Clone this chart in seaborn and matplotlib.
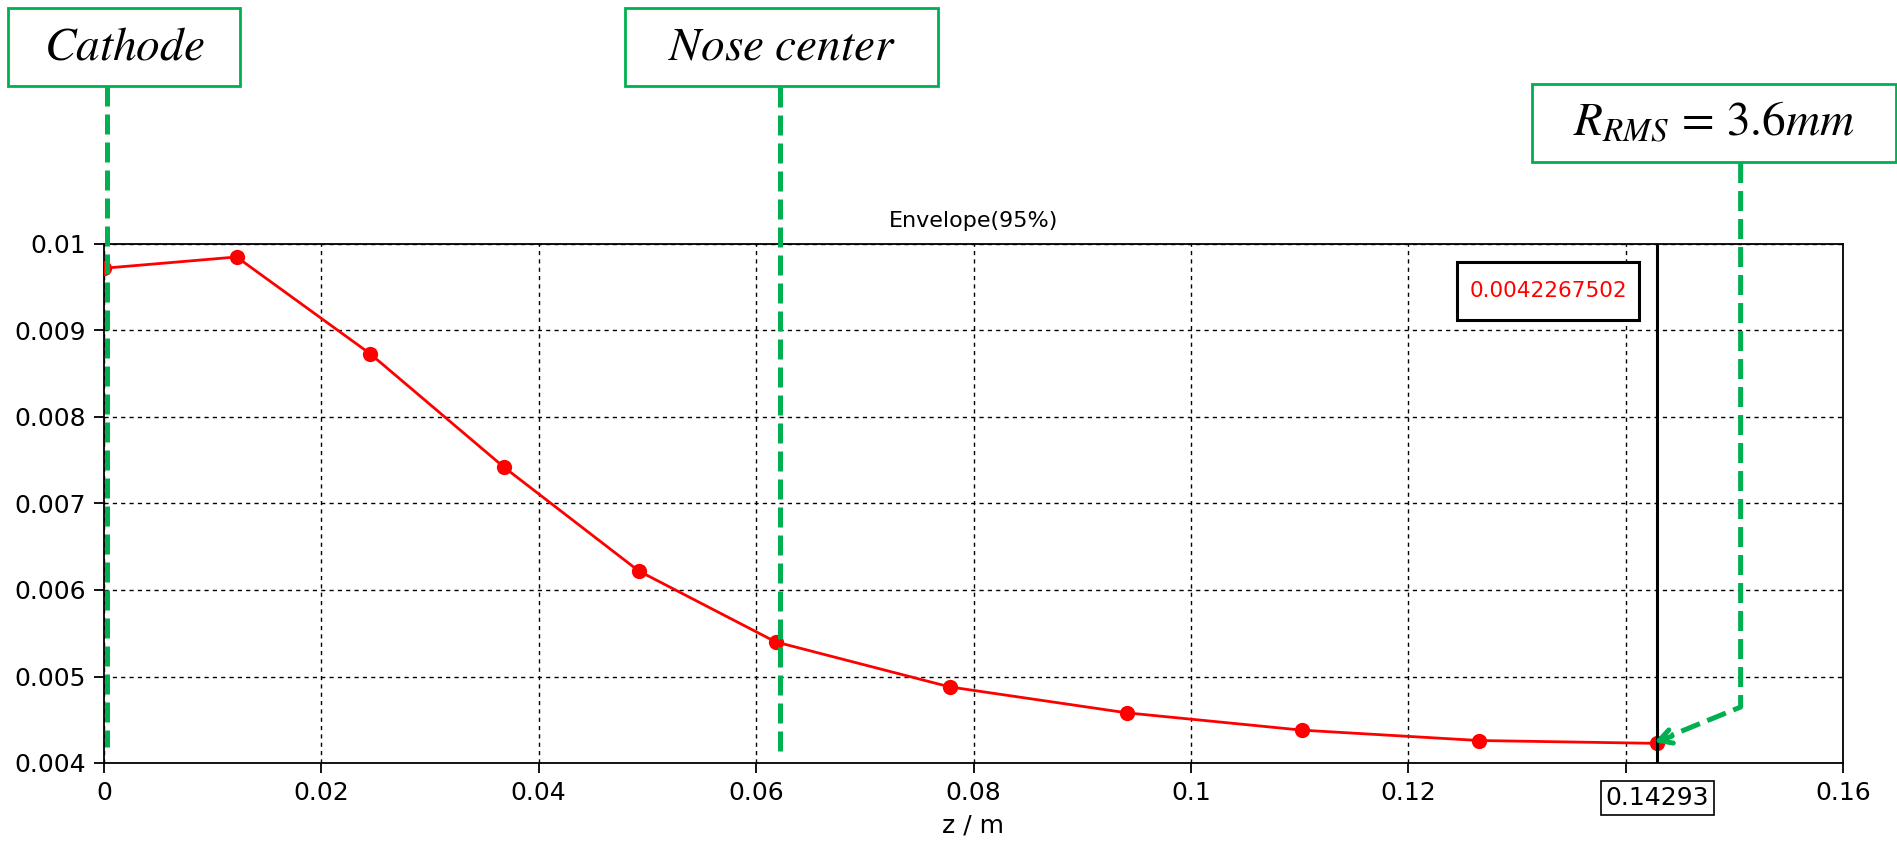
import numpy as np
import pandas as pd
import matplotlib.pyplot as plt
import seaborn as sns
from matplotlib.patches import Rectangle

# envelope (95%) along z
z = [0.0, 0.0122, 0.0245, 0.0368, 0.0492, 0.0618, 0.0778, 0.0941, 0.1102, 0.1265, 0.14293]
env = [0.00972, 0.00985, 0.00873, 0.00742, 0.00622, 0.00540, 0.00488, 0.00458, 0.00438, 0.00426, 0.0042267502]
x_ticks = [0, 0.02, 0.04, 0.06, 0.08, 0.1, 0.12, 0.14, 0.16]
x_labels = ["0", "0.02", "0.04", "0.06", "0.08", "0.1", "0.12", "", "0.16"]
y_ticks = [0.004, 0.005, 0.006, 0.007, 0.008, 0.009, 0.01]
y_labels = ["0.004", "0.005", "0.006", "0.007", "0.008", "0.009", "0.01"]
cursor_z = 0.14293
cursor_val = "0.0042267502"
cathode_z = 0.0003
nose_z = 0.0622

df = pd.DataFrame({"z": z, "env": env})

sns.set_style("white")
plt.rcParams["font.family"] = ["DejaVu Sans"]
plt.rcParams["mathtext.fontset"] = "stix"
plt.rcParams["text.color"] = "black"

W, H = 1897, 849
fig = plt.figure(figsize=(W / 100, H / 100), dpi=100)
ax = fig.add_axes([104 / W, 1 - 763 / H, (1843 - 104) / W, (763 - 244) / H])

green = "#00B050"

sns.lineplot(data=df, x="z", y="env", ax=ax, color="red", lw=2, marker="o",
             markersize=11, markeredgewidth=0, zorder=4)

ax.set_xlim(0, 0.16)
ax.set_ylim(0.004, 0.01)
ax.set_xticks(x_ticks)
ax.set_xticklabels(x_labels)
ax.set_yticks(y_ticks)
ax.set_yticklabels(y_labels)
ax.grid(True, color="black", ls=(0, (3, 3)), lw=1)
ax.tick_params(direction="out", length=7, width=1.3, labelsize=18, colors="black",
               pad=6, bottom=True, left=True)
for s in ax.spines.values():
    s.set_color("black")
    s.set_linewidth(1.3)
ax.set_xlabel("z / m", fontsize=18, labelpad=6, color="black")
ax.set_ylabel("")
ax.set_title("Envelope(95%)", fontsize=16, pad=12, color="black")

# cursor
ax.axvline(cursor_z, color="black", lw=2.2, zorder=5)
ax.text(cursor_z, 0.00359, "%.5f" % cursor_z, ha="center", va="center", fontsize=18,
        bbox=dict(boxstyle="square,pad=0.2", fc="white", ec="black", lw=1.2), clip_on=False)
fig.add_artist(Rectangle((1457 / W, 1 - 320 / H), 182 / W, 58 / H, transform=fig.transFigure,
                         fill=True, fc="white", ec="black", lw=2.2, zorder=6))
fig.text(1548 / W, 1 - 291 / H, cursor_val, color="red", fontsize=15.5, ha="center", va="center", zorder=7)

# green annotations
dash = (0, (4, 1.6))
ax.plot([cathode_z, cathode_z], [0.01183, 0.00418], color=green, lw=3.6, ls=dash, clip_on=False, zorder=6)
ax.plot([nose_z, nose_z], [0.01181, 0.004069], color=green, lw=3.6, ls=dash, clip_on=False, zorder=6)
ax.plot([0.15058, 0.15058, 0.1442], [0.010936, 0.004647, 0.00432], color=green, lw=3.6, ls=dash,
        clip_on=False, zorder=6)
ax.annotate("", xy=(0.1424, 0.00423), xytext=(0.1445, 0.00432),
            arrowprops=dict(arrowstyle="->,head_length=0.9,head_width=0.5", color=green, lw=3.6),
            annotation_clip=False, zorder=6)

boxes = [
    ((8, 8, 240, 86), r"$Cathode$"),
    ((625, 8, 938, 86), r"$Nose\ center$"),
    ((1532, 84, 1896, 162), r"$R_{RMS}\,=\,3.6mm$"),
]
for (x0, y0, x1, y1), label in boxes:
    fig.add_artist(Rectangle((x0 / W, 1 - y1 / H), (x1 - x0) / W, (y1 - y0) / H,
                             transform=fig.transFigure, fill=False, ec=green, lw=2))
    fig.text((x0 + x1) / 2 / W, 1 - (y0 + y1) / 2 / H, label, fontsize=34, ha="center", va="center",
             color="black")

fig.savefig("out.png", dpi=100)
